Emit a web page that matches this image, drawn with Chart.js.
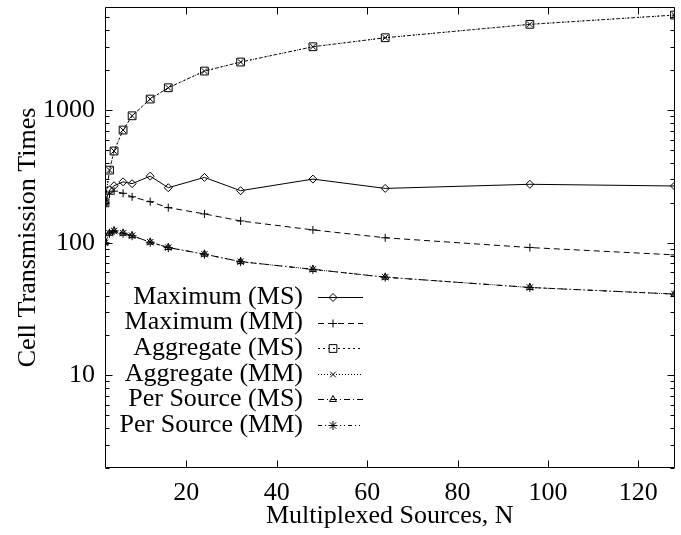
<!DOCTYPE html>
<html>
<head>
<meta charset="utf-8">
<script src="https://cdn.jsdelivr.net/npm/chart.js@4/dist/chart.umd.min.js"></script>
<style>
  html, body { margin: 0; padding: 0; background: #fff; }
  #wrap { width: 681px; height: 535px; }
</style>
</head>
<body>
<div id="wrap"><canvas id="grafico"></canvas></div>
<script>
// Numero de fontes multiplexadas (eixo x)
const sources = [2, 3, 4, 6, 8, 12, 16, 24, 32, 48, 64, 96, 128];

// Tempos de transmissao de celula
const maxMS = [200, 250, 269, 288, 279, 318, 260, 311, 247, 302, 257, 276, 268];
const maxMM = [200, 232, 245, 236, 222, 204, 184, 165, 146, 125, 109, 92, 81];
const aggMS = [200, 353, 492, 708, 907, 1213, 1476, 1972, 2306, 3008, 3518, 4440, 5215];
const aggMM = [200, 353, 492, 708, 907, 1213, 1476, 1972, 2306, 3008, 3518, 4440, 5215];
const perMS = [100, 118, 123, 118, 113, 101, 92, 82, 72, 63, 55, 46, 41];
const perMM = [100, 118, 123, 118, 113, 101, 92, 82, 72, 63, 55, 46, 41];

const xTicks = [20, 40, 60, 80, 100, 120];
const yTicks = [10, 100, 1000];

const FONTE = 'Liberation Serif, Times New Roman, serif';
const TAM = 26;

function serie(label, valores, estilo) {
  return Object.assign({
    label: label,
    data: sources.map((n, i) => ({ x: n, y: valores[i] })),
    borderColor: '#000',
    borderWidth: 1,
    pointBorderColor: '#000',
    pointBackgroundColor: 'transparent',
    pointBorderWidth: 1,
    pointRadius: 4,
    tension: 0,
    fill: false
  }, estilo);
}

// tira o respiro que o Chart.js deixa para os rotulos nas pontas
function semRespiro(s) {
  s.paddingLeft = 0;
  s.paddingRight = 0;
  s.paddingTop = 0;
  s.paddingBottom = 0;
}

// moldura, ticks para dentro (com espelho) e legenda no estilo gnuplot
const moldura = {
  id: 'moldura',
  afterDatasetsDraw(chart) {
    const ctx = chart.ctx;
    const a = chart.chartArea;
    const xs = chart.scales.x, ys = chart.scales.y;
    const L = Math.round(a.left) + 0.5, R = Math.round(a.right) - 0.5;
    const T = Math.round(a.top) + 0.5, B = Math.round(a.bottom) - 0.5;
    ctx.save();
    ctx.strokeStyle = '#000';
    ctx.lineWidth = 1;
    ctx.beginPath();
    ctx.rect(L, T, R - L, B - T);
    ctx.stroke();

    ctx.beginPath();
    xTicks.forEach(v => {
      const px = Math.round(xs.getPixelForValue(v)) + 0.5;
      ctx.moveTo(px, B); ctx.lineTo(px, B - 7);
      ctx.moveTo(px, T); ctx.lineTo(px, T + 7);
    });
    for (let d = 1; d <= 1000; d *= 10) {
      for (let k = 1; k <= 9; k++) {
        const v = k * d;
        if (v < ys.min || v > ys.max) continue;
        const py = Math.round(ys.getPixelForValue(v)) + 0.5;
        const len = k === 1 ? 7 : 4;
        ctx.moveTo(L, py); ctx.lineTo(L + len, py);
        ctx.moveTo(R, py); ctx.lineTo(R - len, py);
      }
    }
    ctx.stroke();

    // legenda
    ctx.font = TAM + 'px ' + FONTE;
    ctx.textAlign = 'right';
    ctx.textBaseline = 'middle';
    chart.data.datasets.forEach((ds, i) => {
      const y = 297 + i * 25.6;
      const yl = Math.round(y) + 0.5;
      ctx.fillStyle = '#000';
      ctx.fillText(ds.label, 303, y);
      ctx.beginPath();
      ctx.setLineDash(ds.borderDash || []);
      ctx.moveTo(318, yl);
      ctx.lineTo(363, yl);
      ctx.stroke();
      ctx.setLineDash([]);
      if (Chart.helpers && Chart.helpers.drawPoint) {
        ctx.fillStyle = 'rgba(0,0,0,0)';
        Chart.helpers.drawPoint(ctx, {
          pointStyle: ds.pointStyle,
          radius: ds.pointRadius,
          rotation: 0,
          borderWidth: 1
        }, 333, yl);
      }
    });
    ctx.restore();
  }
};

new Chart(document.getElementById('grafico'), {
  type: 'line',
  data: {
    datasets: [
      serie('Maximum (MS)', maxMS, { pointStyle: 'rectRot', pointRadius: 4 }),
      serie('Maximum (MM)', maxMM, { pointStyle: 'cross', pointRadius: 4, borderDash: [6, 4] }),
      serie('Aggregate (MS)', aggMS, { pointStyle: 'rect', pointRadius: 5.5, borderDash: [2, 3] }),
      serie('Aggregate (MM)', aggMM, { pointStyle: 'crossRot', pointRadius: 4, borderDash: [1, 2] }),
      serie('Per Source (MS)', perMS, { pointStyle: 'triangle', pointRadius: 4, borderDash: [6, 3, 1, 3] }),
      serie('Per Source (MM)', perMM, { pointStyle: 'star', pointRadius: 4.5, borderDash: [4, 3, 1, 3, 1, 3] })
    ]
  },
  options: {
    responsive: true,
    maintainAspectRatio: false,
    animation: false,
    // a borda direita fica logo fora do canvas
    layout: { padding: { top: 7, right: -1, left: 0, bottom: 0 } },
    plugins: { legend: { display: false }, tooltip: { enabled: false } },
    scales: {
      x: {
        type: 'linear',
        min: 2,
        max: 128,
        grid: { display: false, drawTicks: false },
        border: { display: false },
        afterBuildTicks: s => { s.ticks = xTicks.map(v => ({ value: v })); },
        afterFit: s => { s.height = 67; semRespiro(s); },
        ticks: {
          color: '#000',
          padding: 12,
          maxRotation: 0,
          font: { family: FONTE, size: TAM, lineHeight: 1 }
        },
        title: {
          display: true,
          text: 'Multiplexed Sources, N',
          color: '#000',
          padding: { top: 0, bottom: 6 },
          font: { family: FONTE, size: TAM, lineHeight: 1 }
        }
      },
      y: {
        type: 'logarithmic',
        min: 2,
        max: 6000,
        grid: { display: false, drawTicks: false },
        border: { display: false },
        afterBuildTicks: s => { s.ticks = yTicks.map(v => ({ value: v })); },
        afterFit: s => { s.width = 105; semRespiro(s); },
        ticks: {
          color: '#000',
          padding: 10,
          callback: v => String(v),
          font: { family: FONTE, size: TAM, lineHeight: 1 }
        },
        title: {
          display: true,
          text: 'Cell Transmission Times',
          color: '#000',
          padding: { top: 15, bottom: 0 },
          font: { family: FONTE, size: TAM, lineHeight: 1 }
        }
      }
    }
  },
  plugins: [moldura]
});
</script>
</body>
</html>
